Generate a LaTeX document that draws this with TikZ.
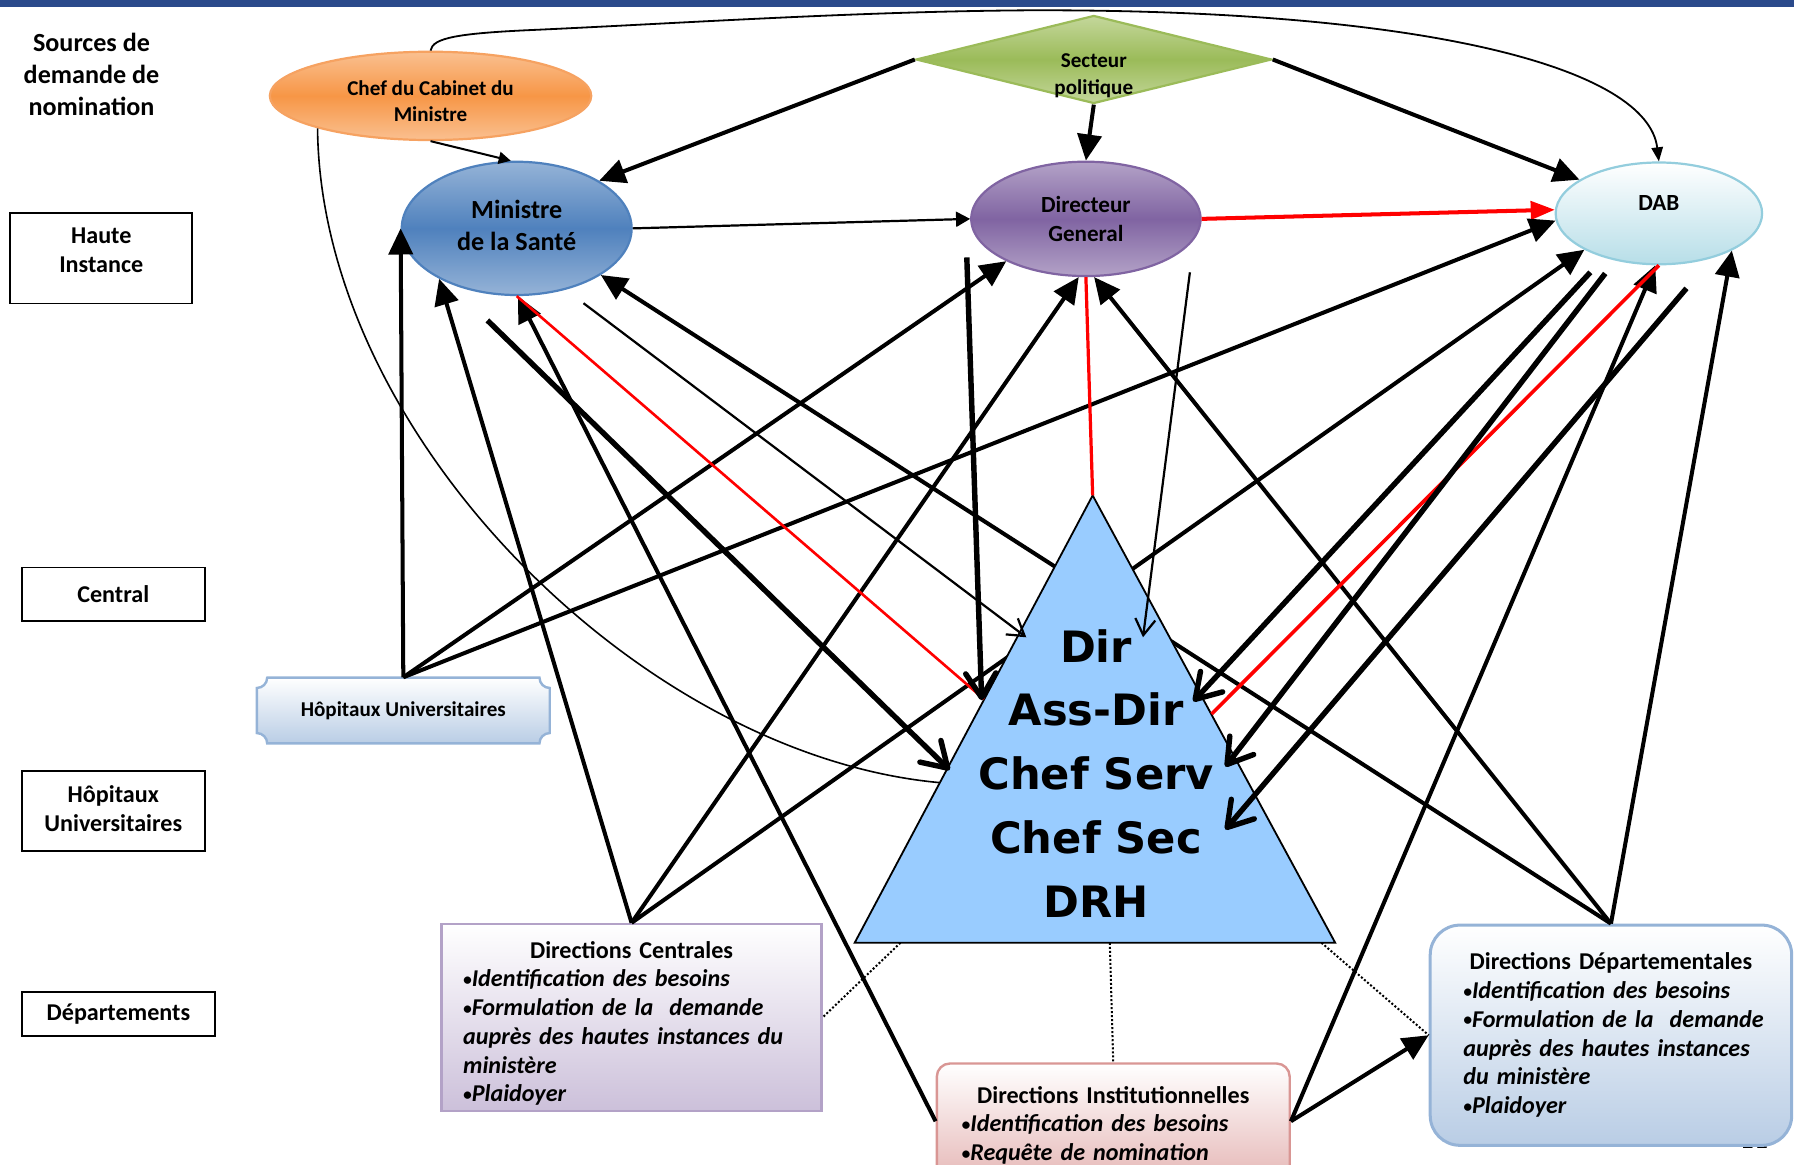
\documentclass[tikz,border=0pt]{standalone}
\usepackage{fontspec}
\usepackage{graphicx}
\setmainfont{Carlito}
\newfontfamily\pyrfont{DejaVu Sans}
\usetikzlibrary{shapes.geometric,arrows.meta}

\definecolor{barblue}{HTML}{2A4A8B}
\definecolor{chefor}{HTML}{F79646}
\definecolor{chefpale}{HTML}{FAC090}
\definecolor{chefedge}{HTML}{F6A261}
\definecolor{sectgreen}{HTML}{9BBB59}
\definecolor{sectpale}{HTML}{C4D79B}
\definecolor{minblue}{HTML}{4F81BD}
\definecolor{minpale}{HTML}{95B3D7}
\definecolor{dgpurple}{HTML}{8064A2}
\definecolor{dgpale}{HTML}{B3A2C7}
\definecolor{dabblue}{HTML}{B7DEE8}
\definecolor{dabedge}{HTML}{93CDDD}
\definecolor{hopblue}{HTML}{B9CDE5}
\definecolor{hopedge}{HTML}{95B3D7}
\definecolor{dclilac}{HTML}{CCC0DA}
\definecolor{dcedge}{HTML}{B3A2C7}
\definecolor{dipink}{HTML}{E6B9B8}
\definecolor{diedge}{HTML}{D99694}
\definecolor{pyrblue}{HTML}{99CCFF}

\newcommand{\twolines}[2]{\begin{tabular}{@{}c@{}}#1\\#2\end{tabular}}
\newcommand{\dirline}[1]{\mbox{\itshape #1}}
\newcommand{\bul}{\raisebox{0.06em}{\scalebox{0.72}{•}}}

\tikzset{
    lvlbox/.style={draw, line width=0.9pt, inner sep=0pt, font=\fontsize{12}{14.5}\selectfont\bfseries},
    oval/.style={ellipse, inner sep=0pt, line width=1.1pt},
    dirbox/.style={inner sep=0pt, line width=1.2pt, align=left, top color=white, font=\fontsize{12}{14.3}\selectfont\bfseries},
    bigarr/.style={line width=2pt, -{Triangle[length=13pt,width=12pt]}},
    midarr/.style={line width=1.1pt, -{Triangle[length=7pt,width=7.5pt]}},
    thinarr/.style={line width=0.9pt, -{Triangle[length=7pt,width=5.7pt]}},
    openarr/.style={line width=1.1pt, -{Straight Barb[length=8pt,width=10pt]}},
    fatopen/.style={line width=2.7pt, -{Straight Barb[length=12pt,width=15pt,round]}},
    redln/.style={red, line width=1.3pt},
    dotln/.style={densely dotted, line width=1pt}
}

\begin{document}
\begin{tikzpicture}[x=0.02cm, y=-0.02cm]
	\useasboundingbox (0,0) rectangle (1568,1018);
	\fill[barblue] (0,0) rectangle (1568,6);

	% niveaux
	\node[font=\fontsize{13}{16}\selectfont\bfseries, align=center] (src) at (80,65) {Sources de\\demande de\\nomination};
	\node[lvlbox, minimum width=3.18cm, minimum height=1.58cm, text height=0.3cm, text depth=0.31cm] (haute) at (88.5,225.7) {\twolines{Haute}{Instance}};
	\node[lvlbox, minimum width=3.2cm, minimum height=0.94cm] (central) at (99,519.5) {Central};
	\node[lvlbox, minimum width=3.2cm, minimum height=1.4cm] (hopl) at (99,708.7) {\twolines{Hôpitaux}{Universitaires}};
	\node[lvlbox, minimum width=3.38cm, minimum height=0.77cm] (dept) at (103.5,886) {Départements};

	% sources
	\node[oval, draw=chefedge, top color=chefpale, bottom color=chefpale, middle color=chefor, minimum width=5.62cm, minimum height=1.544cm, font=\fontsize{10.5}{13}\selectfont\bfseries, text height=0.45cm, text depth=0cm] (chef) at (376.3,83.8) {\twolines{Chef du Cabinet du}{Ministre}};
	\node[diamond, shape aspect=4, inner sep=0pt, line width=1.1pt, draw=sectgreen, top color=sectpale, bottom color=sectpale, middle color=sectgreen, minimum width=6.22cm, minimum height=1.54cm, font=\fontsize{10.5}{13}\selectfont\bfseries, text height=0.76cm, text depth=0cm] (sect) at (956,52) {\twolines{Secteur}{politique}};
	\node[oval, draw=minblue, top color=minpale, bottom color=minpale, middle color=minblue, minimum width=4.02cm, minimum height=2.33cm, font=\fontsize{13}{16}\selectfont\bfseries] (min) at (451.6,199.6) {\twolines{Ministre}{de la Santé}};
	\node[oval, draw=dgpurple, top color=dgpale, bottom color=dgpale, middle color=dgpurple, minimum width=4.01cm, minimum height=2cm, font=\fontsize{11.5}{14.5}\selectfont\bfseries, text height=0.28cm, text depth=0cm] (dg) at (949.1,191.3) {\twolines{Directeur}{General}};
	\node[oval, draw=dabedge, top color=white, bottom color=dabblue, minimum width=3.61cm, minimum height=1.78cm, font=\fontsize{11.5}{14}\selectfont\bfseries, text height=0.3cm, text depth=0.41cm] (dab) at (1449.9,186.5) {DAB};

	% plaque
	\shade[top color=white, bottom color=hopblue, draw=hopedge, line width=1.2pt]
		(233.5,592.3) -- (471.5,592.3) arc[start angle=180, end angle=270, radius=0.18cm]
		-- (480.5,640.7) arc[start angle=90, end angle=180, radius=0.18cm]
		-- (233.5,649.7) arc[start angle=0, end angle=90, radius=0.18cm]
		-- (224.5,601.3) arc[start angle=270, end angle=360, radius=0.18cm] -- cycle;
	\node[inner sep=0pt, minimum width=5.12cm, minimum height=1.148cm, font=\fontsize{10.5}{13}\selectfont\bfseries] (hop) at (352.5,621) {Hôpitaux Universitaires};

	\node[anchor=base, font=\fontsize{14}{16}\selectfont] (pgnum) at (1533,1004) {11};

	% directions
	\node[dirbox, draw=dcedge, bottom color=dclilac, minimum width=6.64cm, minimum height=3.264cm, text width=5.89cm] (dc) at (552,889.2) {\makebox[\linewidth]{\rule{0pt}{14.5pt}Directions Centrales}\\
		\dirline{\bul Identification des besoins}\\
		\dirline{\bul Formulation de la~ demande}\\
		\dirline{auprès des hautes instances du}\\
		\dirline{ministère}\\
		\dirline{\bul Plaidoyer}};
	\node[dirbox, rounded corners=0.23cm, draw=diedge, bottom color=dipink, minimum width=6.17cm, minimum height=2.02cm, text width=5.3cm] (di) at (973,980) {\makebox[\linewidth]{\rule{0pt}{12.4pt}Directions Institutionnelles}\\
		\dirline{\bul Identification des besoins}\\
		\dirline{\bul Requête de nomination}};
	\node[dirbox, rounded corners=0.52cm, draw=hopedge, line width=1.5pt, bottom color=hopblue, minimum width=6.32cm, minimum height=3.85cm, text width=5.16cm] (dd) at (1408,904.8) {\makebox[\linewidth]{Directions Départementales}\\
		\dirline{\bul Identification des besoins}\\
		\dirline{\bul Formulation de la~ demande}\\
		\dirline{auprès des hautes instances}\\
		\dirline{du ministère}\\
		\dirline{\bul Plaidoyer}};

	% triangle and free ends
	\coordinate (apex) at (955,433);
	\coordinate (baseL) at (747,824);
	\coordinate (baseR) at (1167,824);
	\coordinate (mA) at (426,280);
	\coordinate (mB) at (510,265);
	\coordinate (gA) at (845,225);
	\coordinate (gB) at (1040,238);
	\coordinate (bA) at (1390,238);
	\coordinate (bB) at (1403,239);
	\coordinate (bC) at (1474,252);
	\coordinate (dirL) at (897,557);
	\coordinate (dirR) at (999,557);
	\coordinate (assL) at (858,612);
	\coordinate (assR) at (1043,613);
	\coordinate (servL) at (830,673);
	\coordinate (servR) at (1071,670);
	\coordinate (secR) at (1071,725);
	\coordinate (redL) at (860,611);
	\coordinate (redR) at (1059,624);
	\coordinate (curveEnd) at (821,684);
	\coordinate (dotA) at (787,824);
	\coordinate (dotB) at (970,824);
	\coordinate (dotC) at (1155,824);

	\draw[thinarr] (chef.north) .. controls (378,33) and (400,29) .. (470,26) .. controls (600,20) and (750,10) .. (900,9) .. controls (1250,8) and (1440,60) .. (dab.north);
	\draw[line width=1pt, -{Triangle[length=6pt,width=6pt]}] (chef.south) -- (min.95);
	\draw[line width=0.8pt] (chef.196) .. controls (280,380) and (560,660) .. (curveEnd);
	\draw[bigarr] (sect.west) -- (min.30);
	\draw[bigarr] (sect.south) -- (dg.north);
	\draw[bigarr] (sect.east) -- (dab.157);
	\draw[midarr] (min.east) -- (dg.west);
	\draw[red, line width=2pt, -{Triangle[length=12pt,width=9pt]}] (dg.east) -- (dab.178);
	\draw[bigarr] (hop.north) -- (min.west);
	\draw[bigarr] (hop.north) -- (dg.208);
	\draw[bigarr] (hop.north) -- (dab.184);
	\draw[bigarr] (dc.north) -- (min.213);
	\draw[bigarr] (dc.north) -- (dg.263);
	\draw[bigarr] (dc.north) -- (dab.206);
	\draw[bigarr] (di.west) -- (min.271);
	\draw[bigarr] (di.east) -- (dab.266);
	\draw[bigarr] (di.east) -- (dd.west);
	\draw[bigarr] (dd.north) -- (min.331);
	\draw[bigarr] (dd.north) -- (dg.278);
	\draw[bigarr] (dd.north) -- (dab.333);

	\filldraw[fill=pyrblue, draw=black, line width=0.9pt] (apex) -- (baseL) -- (baseR) -- cycle;

	\draw[redln] (min.south) -- (redL);
	\draw[red, line width=1.6pt] (dg.south) -- (apex);
	\draw[red, line width=1.8pt] (dab.270) -- (redR);
	\draw[openarr] (mB) -- (dirL);
	\draw[openarr] (gB) -- (dirR);
	\draw[fatopen] (mA) -- (servL);
	\draw[fatopen] (gA) -- (assL);
	\draw[fatopen] (bA) -- (assR);
	\draw[fatopen] (bB) -- (servR);
	\draw[fatopen] (bC) -- (secR);
	\draw[dotln] (dotA) -- (dc.east);
	\draw[dotln] (dotB) -- (di.north);
	\draw[dotln] (dotC) -- (dd.west);

	\node[align=center, font=\pyrfont\bfseries\fontsize{21.5}{31.8}\selectfont] (pyr) at (958,676) {Dir\\Ass-Dir\\Chef Serv\\Chef Sec\\DRH};
\end{tikzpicture}
\end{document}
